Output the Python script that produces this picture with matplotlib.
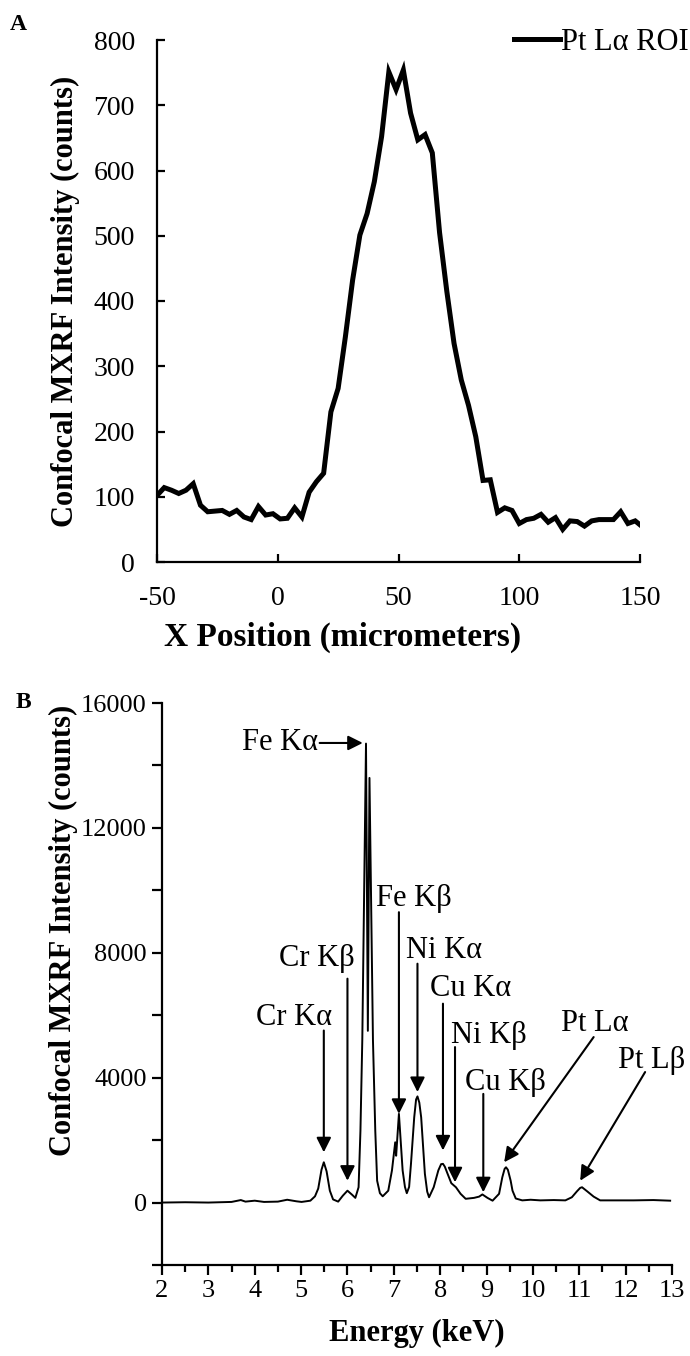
import matplotlib
matplotlib.use('Agg')
import matplotlib.pyplot as plt

plt.rcParams['font.family'] = ['Liberation Serif', 'DejaVu Serif']
plt.rcParams['axes.unicode_minus'] = False

# panel A: Pt L-alpha line scan
pos_um = [-50, -47, -44, -41, -38, -35, -32, -29, -26, -23, -20, -17, -14, -11, -8, -5, -2,
          1, 4, 7, 10, 13, 16, 19, 22, 25, 28, 31, 34, 37, 40, 43, 46, 49, 52, 55, 58, 61,
          64, 67, 70, 73, 76, 79, 82, 85, 88, 91, 94, 97, 100, 103, 106, 109, 112, 115, 118,
          121, 124, 127, 130, 133, 136, 139, 142, 145, 148, 150]
pt_counts = [102, 114, 110, 105, 110, 120, 87, 77, 78, 79, 73, 79, 69, 65, 85, 72, 74,
             66, 67, 83, 69, 107, 123, 136, 230, 266, 345, 432, 501, 534, 583, 652, 751, 724,
             754, 688, 647, 655, 627, 505, 415, 335, 279, 240, 192, 125, 126, 76, 83, 79, 59,
             65, 67, 73, 61, 68, 50, 63, 62, 55, 63, 65, 65, 65, 77, 59, 63, 57]

# panel B: sum spectrum
energy_kev = [2.0, 2.5, 3.0, 3.5, 3.7, 3.8, 4.0, 4.2, 4.5, 4.7, 4.9, 5.01, 5.20, 5.30, 5.37,
              5.44, 5.49, 5.55, 5.62, 5.69, 5.80, 5.90, 6.00, 6.10, 6.17, 6.24, 6.28, 6.32,
              6.40, 6.44, 6.475, 6.55, 6.60, 6.64, 6.70, 6.76, 6.88, 6.96, 7.03, 7.05, 7.11,
              7.19, 7.24, 7.28, 7.33, 7.37, 7.44, 7.48, 7.51, 7.55, 7.59, 7.67, 7.72, 7.76,
              7.86, 7.96, 8.02, 8.06, 8.10, 8.16, 8.24, 8.34, 8.44, 8.55, 8.73, 8.84, 8.91,
              9.02, 9.13, 9.27, 9.34, 9.39, 9.42, 9.46, 9.52, 9.56, 9.63, 9.77, 9.95, 10.16,
              10.45, 10.70, 10.84, 10.95, 11.02, 11.06, 11.17, 11.31, 11.45, 11.74, 12.17,
              12.60, 12.96]
spec_counts = [0, 10, 0, 20, 80, 30, 60, 20, 30, 90, 40, 20, 60, 200, 450,
               1050, 1290, 1000, 380, 100, 30, 220, 380, 250, 150, 490, 2300, 5200,
               14700, 5500, 13600, 5200, 2300, 700, 300, 200, 380, 1030, 1930, 1500, 2840,
               1030, 500, 300, 500, 1240, 2730, 3300, 3400, 3200, 2730, 920, 350, 170,
               490, 1030, 1230, 1240, 1150, 920, 620, 490, 280, 120, 150, 190, 260,
               150, 60, 280, 810, 1080, 1130, 1050, 700, 380, 130, 70, 90, 70,
               80, 70, 170, 360, 470, 490, 360, 190, 70, 70, 70,
               80, 60]

# peak labels: text, label (E, counts), arrow start, arrow tip
peak_names = ['Cr Kα', 'Cr Kβ', 'Fe Kβ', 'Ni Kα', 'Cu Kα', 'Ni Kβ', 'Cu Kβ', 'Pt Lα', 'Pt Lβ']
label_xy = [(4.84, 5940), (5.33, 7810), (7.44, 9730), (8.09, 8080), (8.66, 6850),
            (9.04, 5350), (9.41, 3860), (11.34, 5730), (12.56, 4550)]
arrow_from = [(5.49, 5510), (6.00, 7170), (7.11, 9300), (7.51, 7650), (8.06, 6370),
              (8.32, 4980), (8.93, 3480), (11.31, 5300), (12.42, 4180)]
arrow_to = [(5.49, 1610), (6.00, 700), (7.11, 2840), (7.51, 3540), (8.06, 1670),
            (8.32, 650), (8.93, 330), (9.38, 1290), (11.02, 700)]

fig = plt.figure(figsize=(6.9, 13.56), dpi=100)

# ---- A ----
ax1 = fig.add_axes([157/690, 1 - 562/1356, 483/690, 522/1356])
ax1.plot(pos_um, pt_counts, color='black', lw=3.6, solid_joinstyle='miter', label='Pt Lα ROI')
ax1.set_xlim(-50, 150)
ax1.set_ylim(0, 800)
ax1.set_xticks([-50, 0, 50, 100, 150])
ax1.set_yticks(range(0, 801, 100))
ax1.spines['top'].set_visible(False)
ax1.spines['right'].set_visible(False)
for s in ['left', 'bottom']:
    ax1.spines[s].set_linewidth(1.6)
ax1.tick_params(direction='in', length=6, width=1.6, labelsize=20)
ax1.tick_params(axis='x', pad=17)
ax1.tick_params(axis='y', pad=16)
ax1.set_xlabel('X Position (micrometers)', fontsize=24, fontweight='bold', labelpad=4)
ax1.xaxis.set_label_coords(0.385, -0.115)
ax1.set_ylabel('Confocal MXRF Intensity (counts)', fontsize=22, fontweight='bold')
ax1.yaxis.set_label_coords(-0.16, 0.5)
ax1.legend(loc='upper right', bbox_to_anchor=(689/690, 1 - 28/1356),
           bbox_transform=fig.transFigure, frameon=False, borderpad=0, borderaxespad=0,
           handlelength=1.5, handletextpad=0.05, fontsize=22)
fig.text(18/690, 1 - 24/1356, 'A', fontsize=17, fontweight='bold', ha='center', va='center')

# ---- B ----
ax2 = fig.add_axes([162/690, 1 - 1265/1356, 510/690, 562/1356])
ax2.plot(energy_kev, spec_counts, color='black', lw=1.4)
ax2.set_xlim(2, 13)
ax2.set_ylim(-2000, 16000)
ax2.set_xticks(range(2, 14))
ax2.set_xticks([x + 0.5 for x in range(2, 13)], minor=True)
ax2.set_yticks(range(-2000, 16001, 2000))
ax2.set_yticklabels(['' if v % 4000 else str(v) for v in range(-2000, 16001, 2000)])
ax2.spines['top'].set_visible(False)
ax2.spines['right'].set_visible(False)
for s in ['left', 'bottom']:
    ax2.spines[s].set_linewidth(1.6)
ax2.tick_params(direction='out', length=7, width=1.6, labelsize=19, pad=4)
ax2.tick_params(which='minor', direction='out', length=5, width=1.6)
ax2.set_xlabel('Energy (keV)', fontsize=22, fontweight='bold', labelpad=12)
ax2.set_ylabel('Confocal MXRF Intensity (counts)', fontsize=22, fontweight='bold')
ax2.yaxis.set_label_coords(-0.165, 0.596)
fig.text(23/690, 1 - 703/1356, 'B', fontsize=17, fontweight='bold', ha='center', va='center')

arrow_kw = dict(arrowstyle='-|>', color='black', lw=1.5, mutation_scale=22,
                shrinkA=0, shrinkB=0)
for name, lxy, a0, a1 in zip(peak_names, label_xy, arrow_from, arrow_to):
    ax2.text(lxy[0], lxy[1], name, fontsize=22, ha='center', va='center')
    ax2.annotate('', xy=a1, xytext=a0, arrowprops=arrow_kw)

ax2.text(5.37, 14720, 'Fe Kα', fontsize=22, ha='right', va='center')
ax2.annotate('', xy=(6.33, 14720), xytext=(5.40, 14720), arrowprops=arrow_kw)

fig.savefig('out.png', dpi=100)
